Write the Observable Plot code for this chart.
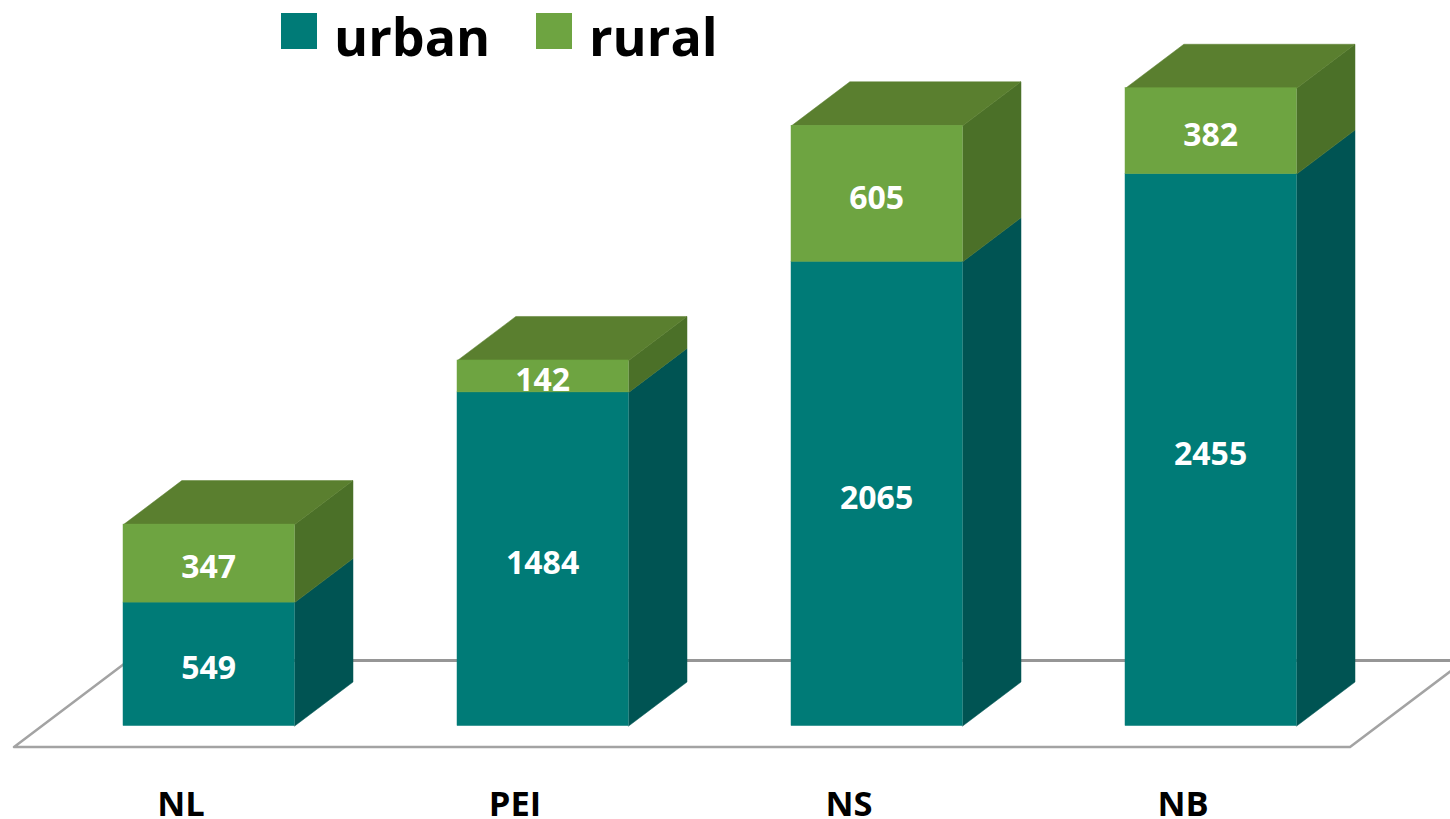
<!DOCTYPE html>
<html>
<head>
<meta charset="utf-8">
<script src="https://cdn.jsdelivr.net/npm/d3@7"></script>
<script src="https://cdn.jsdelivr.net/npm/@observablehq/plot@0.6"></script>
<style>
html,body{margin:0;padding:0;background:#fff;overflow:hidden}
#wrap{position:relative;width:1450px;height:819px;font-family:"Open Sans",sans-serif}
#legend{position:absolute;left:281px;top:13px;height:36px;font-weight:700;font-size:52px;color:#000}
#legend .sw{position:absolute;top:0;width:36px;height:36px}
#legend .lb{position:absolute;top:-7px;line-height:60px}
</style>
</head>
<body>
<div id="wrap">
<div id="chart"></div>
<div id="legend"></div>
</div>
<script>
const categories = ["NL", "PEI", "NS", "NB"];
const urban = [549, 1484, 2065, 2455];
const rural = [347, 142, 605, 382];
const seriesNames = ["urban", "rural"];
const slots = [0, 1, 2, 3];

// Extents of the drawing in data units (one slot per province)
const barWidth = 0.5125, depthX = 0.1746, depthY = 195.7;
const floorLeft = -0.584, floorRight = 3.416, floorFront = -93.4, floorBack = 291;
const labelShift = -0.084;

const segments = categories.flatMap((c, i) => [
  {cat: c, i, series: "urban", y1: 0, y2: urban[i], value: urban[i]},
  {cat: c, i, series: "rural", y1: urban[i], y2: urban[i] + rural[i], value: rural[i]}
]);
const xl = s => s.i - barWidth / 2, xr = s => s.i + barWidth / 2;

const faces = segments.flatMap(s => {
  const side = [[xr(s), s.y1], [xr(s) + depthX, s.y1 + depthY], [xr(s) + depthX, s.y2 + depthY], [xr(s), s.y2]]
    .map(([x, y]) => ({id: s.cat + s.series + "side", tone: s.series + " side", x, y}));
  const top = s.series === "rural"
    ? [[xl(s), s.y2], [xl(s) + depthX, s.y2 + depthY], [xr(s) + depthX, s.y2 + depthY], [xr(s), s.y2]]
        .map(([x, y]) => ({id: s.cat + "top", tone: "top", x, y}))
    : [];
  return [...side, ...top];
});

const floorRun = depthX * (floorBack - floorFront) / depthY;
const floor = [
  [floorLeft + floorRun, floorBack],
  [floorLeft, floorFront],
  [floorRight, floorFront],
  [floorRight + floorRun, floorBack]
].map(([x, y]) => ({x, y}));
const floorBackLine = [
  {x: floorLeft + floorRun, y: floorBack},
  {x: floorRight + floorRun, y: floorBack}
];

const chart = Plot.plot({
  width: 1450, height: 819,
  marginTop: 0, marginRight: 0, marginLeft: 0, marginBottom: 60,
  style: {background: "#fff", fontFamily: "Open Sans, sans-serif"},
  x: {domain: [-208.6 / 334, 1241.4 / 334], range: [0, 1450], axis: null},
  y: {domain: [-149, 3227.3], range: [759, 0], axis: null},
  color: {
    domain: ["urban", "rural", "urban side", "rural side", "top"],
    range: ["#007b77", "#6ea441", "#005453", "#4b7028", "#5a7f2f"]
  },
  marks: [
    Plot.line(floor, {x: "x", y: "y", stroke: "#a3a3a3", strokeWidth: 2.5, curve: "linear"}),
    Plot.line(floorBackLine, {x: "x", y: "y", stroke: "#969696", strokeWidth: 3, curve: "linear"}),
    Plot.line(faces, {x: "x", y: "y", z: "id", fill: "tone", stroke: "tone", strokeWidth: 0.5, curve: "linear-closed"}),
    Plot.rect(segments, {x1: xl, x2: xr, y1: "y1", y2: "y2", fill: "series", stroke: "series", strokeWidth: 0.5}),
    Plot.text(segments, {
      x: "i", y: s => (s.y1 + s.y2) / 2, text: s => String(s.value),
      fill: "#fff", fontWeight: 700, fontSize: 32, dy: 4.5, dx: -0.5
    }),
    Plot.axisX(slots.map(i => i + labelShift), {
      anchor: "bottom", tickSize: 0, tickPadding: 32, label: null,
      tickFormat: (d, i) => categories[i],
      fill: "#000", fontWeight: 700, fontSize: 34.5
    })
  ]
});
document.getElementById("chart").appendChild(chart);

const legend = document.getElementById("legend");
const swatchColors = {urban: "#007b77", rural: "#6ea441"};
const swatchLeft = {urban: 0, rural: 255};
seriesNames.forEach(n => {
  const sw = document.createElement("div");
  sw.className = "sw";
  sw.style.left = swatchLeft[n] + "px";
  sw.style.background = swatchColors[n];
  legend.appendChild(sw);
  const lb = document.createElement("div");
  lb.className = "lb";
  lb.style.left = swatchLeft[n] + 53 + "px";
  lb.textContent = n;
  legend.appendChild(lb);
});
</script>
</body>
</html>
